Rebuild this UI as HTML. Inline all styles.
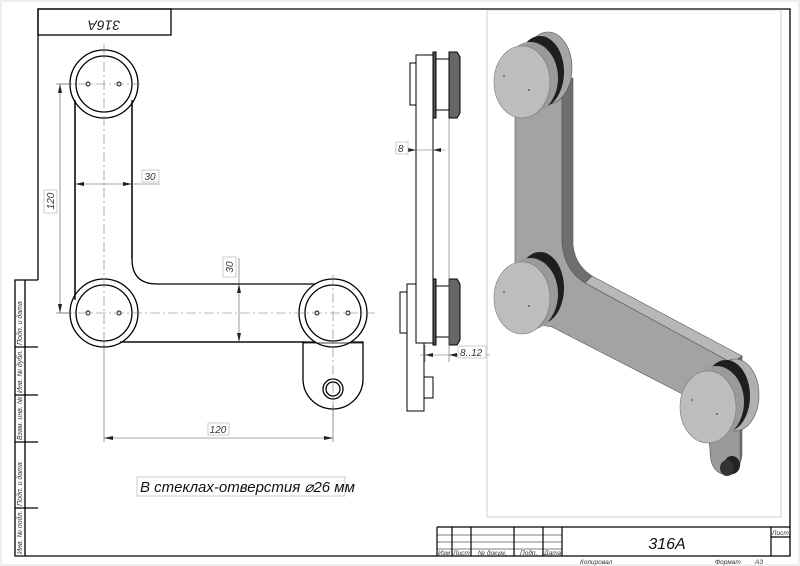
<!DOCTYPE html>
<html><head><meta charset="utf-8"><style>
html,body{margin:0;padding:0;background:#fff}
svg{display:block}
text{font-family:"Liberation Sans",sans-serif;font-style:italic}
</style></head><body>
<svg width="800" height="566" viewBox="0 0 800 566" xmlns="http://www.w3.org/2000/svg">
<rect x="0" y="0" width="800" height="566" fill="#fff"/>
<rect x="1" y="1" width="798" height="564" fill="none" stroke="#ddd"/>
<g stroke="#000" fill="none" stroke-width="1.3">
<polyline points="38,280 38,9 790,9 790,556 15,556 15,280 38,280"/>
<line x1="25" y1="280" x2="25" y2="556"/>
<line x1="15" y1="347" x2="38" y2="347"/>
<line x1="15" y1="395" x2="38" y2="395"/>
<line x1="15" y1="442" x2="38" y2="442"/>
<line x1="15" y1="508" x2="38" y2="508"/>
<rect x="38" y="9" width="133" height="26"/>
</g>
<g font-size="7" fill="#333">
<text transform="translate(22,345) rotate(-90)">Подп. и дата</text>
<text transform="translate(22,393) rotate(-90)">Инв. № дубл.</text>
<text transform="translate(22,440) rotate(-90)">Взам. инв. №</text>
<text transform="translate(22,506) rotate(-90)">Подп. и дата</text>
<text transform="translate(22,554) rotate(-90)">Инв. № подл.</text>
</g>
<text transform="translate(104,24) rotate(180)" font-size="14" text-anchor="middle" dominant-baseline="middle" fill="#222">316A</text>
<g stroke="#000" fill="none" stroke-width="1.2">
<line x1="437" y1="527" x2="790" y2="527"/>
<line x1="437" y1="527" x2="437" y2="556"/>
<line x1="452" y1="527" x2="452" y2="556"/>
<line x1="471" y1="527" x2="471" y2="556"/>
<line x1="514" y1="527" x2="514" y2="556"/>
<line x1="543" y1="527" x2="543" y2="556"/>
<line x1="562" y1="527" x2="562" y2="556"/>
<line x1="771" y1="527" x2="771" y2="556"/>
<line x1="771" y1="537" x2="790" y2="537"/>
</g>
<g stroke="#000" stroke-width="0.6">
<line x1="437" y1="535" x2="562" y2="535"/>
<line x1="437" y1="542" x2="562" y2="542"/>
<line x1="437" y1="549" x2="562" y2="549"/>
</g>
<g font-size="6.5" fill="#333">
<text x="438" y="555">Изм</text><text x="453" y="555">Лист</text><text x="478" y="555">№ докум.</text><text x="520" y="555">Подп.</text><text x="544" y="555">Дата</text>
<text x="772" y="535">Лист</text>
<text x="580" y="564">Копировал</text><text x="715" y="564">Формат</text><text x="755" y="564">А3</text>
</g>
<text x="667" y="549" font-size="16" text-anchor="middle" fill="#111">316A</text>
<rect x="487" y="10" width="294" height="507" fill="none" stroke="#d0d0d0"/>
<g stroke="#000" stroke-width="1.3" fill="#fff">
<path d="M303,342 L303,379 A30,30 0 0 0 363,379 L363,342 Z"/>
<path d="M75,84 L75,313 L104,342 L333,342 L333,284 L157,284 Q132,284 132,259 L132,84 Z"/>
<circle cx="104" cy="84" r="34"/><circle cx="104" cy="84" r="28"/>
<circle cx="104" cy="313" r="34"/><circle cx="104" cy="313" r="28"/>
<circle cx="333" cy="313" r="34"/><circle cx="333" cy="313" r="28"/>
<circle cx="333" cy="389" r="10"/><circle cx="333" cy="389" r="7"/>
</g>
<g stroke="#000" stroke-width="1.3" fill="none">
<line x1="75" y1="100" x2="75" y2="300"/>
<line x1="132" y1="100" x2="132" y2="259"/>
<line x1="120" y1="342" x2="305" y2="342"/>
<line x1="303" y1="343" x2="363" y2="343" stroke-width="0.8"/>
</g>
<g fill="#fff" stroke="#000" stroke-width="0.9">
<circle cx="88" cy="84" r="2"/><circle cx="119" cy="84" r="2"/>
<circle cx="88" cy="313" r="2"/><circle cx="119" cy="313" r="2"/>
<circle cx="317" cy="313" r="2"/><circle cx="348" cy="313" r="2"/>
</g>
<g stroke="#777" stroke-width="0.6" stroke-dasharray="10,3,2,3" fill="none">
<line x1="104" y1="44" x2="104" y2="350"/>
<line x1="60" y1="84" x2="140" y2="84"/>
<line x1="60" y1="313" x2="375" y2="313"/>
<line x1="333" y1="275" x2="333" y2="420"/>
</g>
<g stroke="#555" stroke-width="0.6" fill="none">
<line x1="56" y1="84" x2="72" y2="84"/><line x1="56" y1="313" x2="72" y2="313"/>
<line x1="60" y1="84" x2="60" y2="313"/>
<line x1="75" y1="184" x2="160" y2="184"/>
<line x1="239" y1="284" x2="239" y2="342"/><line x1="239" y1="258" x2="239" y2="284"/>
<line x1="104" y1="342" x2="104" y2="442"/><line x1="333" y1="405" x2="333" y2="442"/>
<line x1="104" y1="438" x2="333" y2="438"/>
</g>
<g fill="#222">
<path d="M60,84 l-2,9 h4z"/><path d="M60,313 l-2,-9 h4z"/>
<path d="M75,184 l9,-2 v4z"/><path d="M132,184 l-9,-2 v4z"/>
<path d="M239,284 l-2,9 h4z"/><path d="M239,342 l-2,-9 h4z"/>
<path d="M104,438 l9,-2 v4z"/><path d="M333,438 l-9,-2 v4z"/>
</g>
<g fill="#fff" stroke="#aaa" stroke-width="0.6">
<rect x="44" y="190" width="13" height="23"/>
<rect x="142" y="170" width="17" height="12"/>
<rect x="223" y="257" width="13" height="20"/>
<rect x="208" y="423" width="21" height="12"/>
<rect x="137" y="477" width="208" height="19"/>
</g>
<g font-size="10" fill="#333">
<text transform="translate(54,201) rotate(-90)" text-anchor="middle">120</text>
<text x="150" y="180" text-anchor="middle">30</text>
<text transform="translate(233,267) rotate(-90)" text-anchor="middle">30</text>
<text x="218" y="433" text-anchor="middle">120</text>
</g>
<text x="140" y="492" font-size="15" fill="#111">В стеклах-отверстия ⌀26 мм</text>
<g stroke="#000" stroke-width="1" fill="#fff">
<rect x="407" y="284" width="17" height="127"/>
<rect x="400" y="292" width="7" height="41"/>
<rect x="424" y="377" width="9" height="21"/>
<rect x="410" y="63" width="6" height="42"/>
<rect x="416" y="55" width="17" height="288"/>
<rect x="433" y="52" width="3" height="66" fill="#555"/>
<rect x="433" y="279" width="3" height="66" fill="#555"/>
<rect x="436" y="59" width="13" height="51"/>
<rect x="436" y="286" width="13" height="51"/>
<path d="M449,52 h8 l3,5 v56 l-3,5 h-8z" fill="#666"/>
<path d="M449,279 h8 l3,5 v56 l-3,5 h-8z" fill="#666"/>
</g>
<g stroke="#666" stroke-width="0.6" fill="none">
<line x1="449" y1="118" x2="449" y2="362"/>
<line x1="425" y1="345" x2="425" y2="362"/>
<line x1="395" y1="150" x2="445" y2="150"/>
<line x1="420" y1="355" x2="490" y2="355"/>
</g>
<g fill="#222">
<path d="M416,150 l-8,-2 v4z"/><path d="M433,150 l8,-2 v4z"/>
<path d="M425,355 l8,-2 v4z"/><path d="M449,355 l8,-2 v4z"/>
</g>
<g fill="#fff" stroke="#aaa" stroke-width="0.6">
<rect x="396" y="142" width="12" height="12"/>
<rect x="458" y="346" width="28" height="12"/>
</g>
<g font-size="10" fill="#333"><text x="398" y="152">8</text><text x="460" y="356">8..12</text></g>
<!-- 3D view -->
<g stroke="#555" stroke-width="0.6">
<path d="M562,80 L573,78 L573,245 Q575,265 592,276 L585,283 Q564,270 562,243 Z" fill="#6f6f6f"/>
<path d="M585,283 L592,276 L742,356 L732,363 Z" fill="#b8b8b8"/>
<path d="M732,363 L742,356 L742,455 Q740,470 730,475 L720,470 L730,430 Z" fill="#707070"/>
<path d="M515,80 L562,80 L562,243 Q564,270 585,283 L732,363 L740,410 L698,402 L552,327 L515,320 Z" fill="#a3a3a3"/>
<path d="M705,398 L740,410 L740,465 Q735,478 722,474 Q710,470 710,450 Z" fill="#9a9a9a"/>
<ellipse cx="735" cy="395" rx="24" ry="36" fill="#b0b0b0"/>
<ellipse cx="548" cy="68" rx="24" ry="36" fill="#a5a5a5"/>
</g>
<g>
<ellipse cx="540" cy="72" rx="24" ry="36" fill="#1e1e1e"/>
<ellipse cx="530" cy="78" rx="28" ry="36" fill="#9a9a9a"/>
<ellipse cx="522" cy="82" rx="28" ry="36" fill="#bdbdbd" stroke="#777" stroke-width="0.6"/>
<ellipse cx="540" cy="288" rx="24" ry="36" fill="#1e1e1e"/>
<ellipse cx="530" cy="294" rx="28" ry="36" fill="#9a9a9a"/>
<ellipse cx="522" cy="298" rx="28" ry="36" fill="#bdbdbd" stroke="#777" stroke-width="0.6"/>
<ellipse cx="726" cy="396" rx="24" ry="36" fill="#1e1e1e"/>
<ellipse cx="716" cy="402" rx="28" ry="36" fill="#9a9a9a"/>
<ellipse cx="708" cy="407" rx="28" ry="36" fill="#bdbdbd" stroke="#777" stroke-width="0.6"/>
<ellipse cx="732" cy="465" rx="8" ry="9" fill="#222"/>
<ellipse cx="727" cy="468" rx="7" ry="8" fill="#333"/>
</g>
<g fill="#666"><circle cx="504" cy="76" r="1"/><circle cx="529" cy="90" r="1"/><circle cx="504" cy="292" r="1"/><circle cx="529" cy="306" r="1"/><circle cx="692" cy="400" r="1"/><circle cx="717" cy="414" r="1"/></g>
</svg>
</body></html>
